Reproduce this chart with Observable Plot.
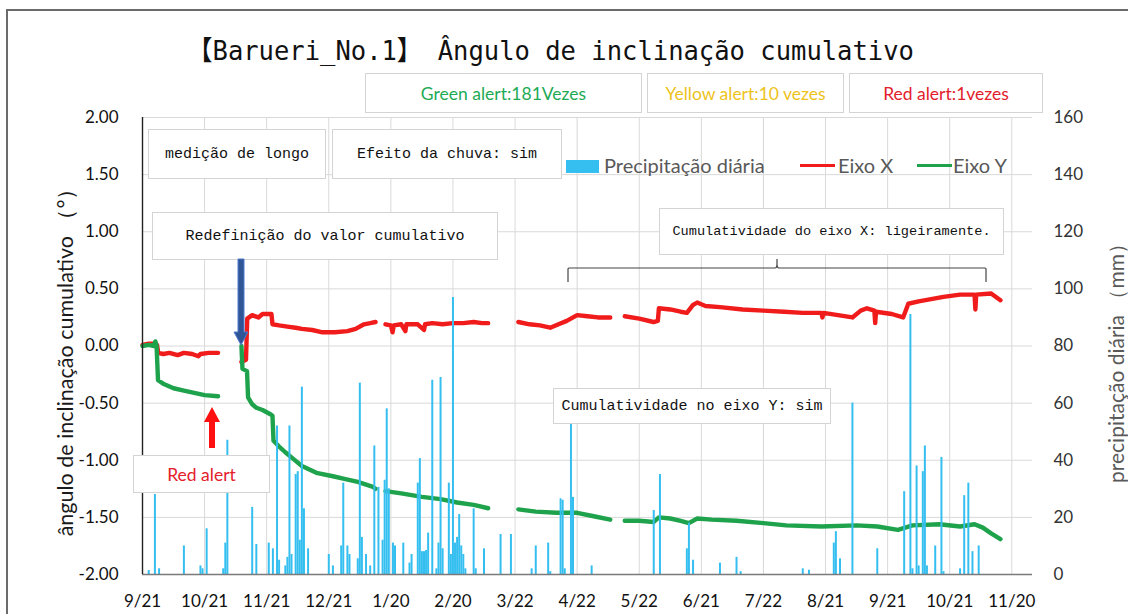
<!DOCTYPE html>
<html><head><meta charset="utf-8">
<script src="https://cdn.jsdelivr.net/npm/d3@7"></script>
<script src="https://cdn.jsdelivr.net/npm/@observablehq/plot@0.6"></script>
<style>
html,body{margin:0;background:#fff;overflow:hidden;}
#wrap{position:relative;width:1128px;height:614px;overflow:hidden;font-family:Lato,"Open Sans",sans-serif;background:#fff;}
#wrap > svg{position:absolute;left:0;top:0;}
.hline{position:absolute;left:6px;top:9px;width:1122px;height:2px;background:#6b6b6b;}
.vline{position:absolute;left:6px;top:9px;width:2px;height:605px;background:#6b6b6b;}
.box{position:absolute;background:#fff;border:1px solid #d4d4d4;box-sizing:border-box;display:flex;align-items:center;justify-content:center;white-space:nowrap;}
.mono{font-family:"Liberation Mono","DejaVu Sans Mono",monospace;color:#111;}
.cal{font-family:Lato,"Open Sans",sans-serif;font-size:17.5px;}
.rot{position:absolute;transform:translate(-50%,-50%) rotate(-90deg);white-space:nowrap;}
#title{position:absolute;left:187px;top:29px;font-family:"DejaVu Sans Mono","Noto Sans CJK JP",monospace;font-size:27px;color:#111;white-space:nowrap;transform:scaleX(0.945);transform-origin:left center;}
.leg{position:absolute;font-size:20px;color:#595959;white-space:nowrap;}
</style></head>
<body>
<div id="wrap">
</div>
<script>
// ---- data ----
const tickDays = [0,30,60,90,120,150,180,210,240,270,300,330,360,390,420];
const tickLabels = ["9/21","10/21","11/21","12/21","1/20","2/20","3/22","4/22","5/22","6/21","7/22","8/21","9/21","10/21","11/20"];
const leftTicks = [-2,-1.5,-1,-0.5,0,0.5,1,1.5,2];
const rightTicks = [0,20,40,60,80,100,120,140,160];

// Eixo X (red) : [day, degrees], null = gap in record
const eixoX = [
[0,0.01],[3,0.02],[6,0.02],[7,0.01],[7.6,-0.06],[10,-0.07],[13,-0.06],[17,-0.08],[20,-0.06],[24,-0.07],[27,-0.09],[28,-0.07],[32,-0.06],[36.5,-0.06],
[42,null],
[47.8,-0.14],[50,-0.12],[50.6,0.24],[53,0.27],[56,0.25],[58,0.28],[62.3,0.28],[62.8,0.19],[66,0.18],[70,0.17],[74,0.16],[77,0.15],[82,0.14],[87,0.12],[93,0.12],[99,0.13],[103,0.15],[107,0.19],[110,0.2],[112.6,0.21],
[115,null],
[117.4,0.19],[120,0.18],[120.8,0.12],[121.4,0.18],[125,0.19],[127,0.13],[127.5,0.19],[133,0.19],[136,0.14],[136.5,0.19],[140,0.2],[145,0.19],[150,0.2],[155,0.2],[160,0.21],[164,0.2],[167,0.2],
[174,null],
[181.6,0.21],[187,0.19],[192,0.18],[197,0.16],[201,0.19],[205,0.22],[210,0.27],[215,0.26],[220,0.25],[226,0.25],
[229,null],
[233,0.26],[240,0.24],[246.9,0.21],[249,0.22],[249.5,0.33],[255,0.32],[260,0.30],[263,0.29],[266,0.36],[268,0.38],[272,0.35],[279,0.34],[290,0.32],[300,0.31],[310,0.30],[319,0.29],[328,0.29],[328.5,0.25],[329,0.29],[336,0.27],[343,0.25],[347,0.31],[350,0.33],[353.6,0.31],[354,0.2],[354.4,0.3],[362,0.28],[367.5,0.25],[370,0.37],[375,0.39],[381,0.41],[387,0.43],[395,0.45],[402,0.45],[402.4,0.32],[402.8,0.45],[410,0.46],[414.5,0.40]
];

// Eixo Y (green)
const eixoY = [
[0,0.0],[3,0.01],[5.5,0.0],[6.2,0.04],[6.8,0.0],[7.5,-0.3],[10,-0.33],[15,-0.37],[20,-0.39],[25,-0.41],[30,-0.43],[36.5,-0.44],
[42,null],
[47.8,0.0],[48.3,-0.2],[50.5,-0.22],[51,-0.45],[53,-0.51],[55,-0.54],[58,-0.56],[62,-0.6],[62.8,-0.61],[63.3,-0.83],[66,-0.88],[69,-0.93],[73,-0.99],[77,-1.05],[84,-1.11],[92,-1.14],[97,-1.16],[104,-1.19],[111,-1.23],[112.6,-1.25],
[115,null],
[117.4,-1.27],[125,-1.29],[135,-1.32],[144,-1.34],[152,-1.37],[160,-1.39],[167,-1.42],
[174,null],
[181.6,-1.43],[190,-1.45],[200,-1.46],[210,-1.46],[218,-1.49],[226,-1.52],
[229,null],
[233,-1.53],[240,-1.53],[247,-1.54],[249.5,-1.50],[255,-1.51],[260,-1.53],[264,-1.55],[268,-1.51],[275,-1.52],[287,-1.53],[300,-1.55],[311,-1.57],[328,-1.58],[345,-1.57],[355,-1.58],[365,-1.61],[372,-1.57],[385,-1.56],[395,-1.58],[402,-1.56],[406,-1.59],[410,-1.64],[414.5,-1.69]
];

// Precipitação diária: [day, mm]
const rain = [
[3,1.4],[6,28],[8,2],[20,10],[28,3],[29,2],[31,16],[39,2],[40,11],[41,47],[53,23.5],[55,10.5],[61,11],[63,9],[65,52],[66,5],[69,3],[70,6],[71,52],[72,7],[74,35],[75,36],[76,12],[77,65.6],[78,23],[80,9],[90,7],[92,3],[96,10],[97,32],[99,10],[100,7],[104,5.5],[105,67],[106,13],[108,7],[110,3],[112,45],[114,30.5],[116,12],[117,33],[118,58],[119,30],[121,11],[122,10],
[126,11],[129,4],[130,7],[133,32],[134,40.6],[135,8],[136,8],[137,8.4],[138,14.5],[140,68],[142,2],[143,11],[144,69],[145,9],[148,32],[149,7],[150,97],[151,11],[152,13],[153,21],[154,10],[155,7],[156,2],[160,23],[161,2],[165,9],[173,14],[178,14],
[188,2],[190,10],[196,11],[197,1],[202,26.5],[203,26],[204,2],[207,54],[208,27],[217,3],[247,22.4],[250,35],[263,9],[264,18],[266,5],[279,4],[287,6],[289,1],
[319,2],[322,1.5],[334,11],[335,15],[337,5.5],[343,60],[355,9],[368,29],[371,91],[372,2],[374,38],[375,3],[377,36],[378,45],[379,3],[383,10],[386,41],[387,1],[395,2],[397,27.6],[399,32],[401,8],[404,10]
];

const RED = "#f01b1b", GREEN = "#1fa24c", BLUE = "#35bff0";
const toLeft = mm => -2 + mm * 4 / 160; // secondary axis 0–160 mm onto −2…2 °

const plot = Plot.plot({
  width: 1128, height: 614,
  marginLeft: 142, marginRight: 96, marginTop: 117, marginBottom: 40,
  style: {fontFamily: "Lato, 'Open Sans', sans-serif", fontSize: "17px", background: "transparent"},
  x: {domain: [0, 430], axis: null},
  y: {domain: [-2, 2], axis: null},
  marks: [
    Plot.gridY(leftTicks, {stroke: "#d9d9d9", strokeOpacity: 1}),
    Plot.gridX(tickDays, {stroke: "#d9d9d9", strokeOpacity: 1}),
    Plot.line(eixoX, {x: d => d[0], y: d => d[1], stroke: RED, strokeWidth: 4.4, curve: "linear"}),
    Plot.line(eixoY, {x: d => d[0], y: d => d[1], stroke: GREEN, strokeWidth: 4.4, curve: "linear"}),
    Plot.ruleX(rain, {x: d => d[0], y1: -2, y2: d => toLeft(d[1]), stroke: BLUE, strokeWidth: 2}),
    Plot.ruleY([-2], {stroke: "#7a7a7a", strokeWidth: 1.6}),
    Plot.ruleX([0], {stroke: "#222", strokeWidth: 1.4}),
    Plot.axisY(leftTicks, {anchor: "left", tickSize: 0, tickPadding: 24, tickFormat: d => d.toFixed(2), fill: "#111", label: null}),
    Plot.axisY(rightTicks.map(toLeft), {anchor: "right", tickSize: 0, tickPadding: 21, tickFormat: d => String(Math.round((d + 2) * 40)), fill: "#333", label: null}),
    Plot.axisX(tickDays, {anchor: "bottom", tickSize: 0, tickPadding: 20, tickFormat: d => tickLabels[tickDays.indexOf(d)], fill: "#111", label: null})
  ]
});

const wrap = document.getElementById("wrap");
wrap.appendChild(plot);

const html = `
<div class="hline"></div><div class="vline"></div>
<div id="title">【Barueri_No.1】 Ângulo de inclinação cumulativo</div>
<div class="box cal" style="left:365px;top:73px;width:277px;height:40px;color:#1daa55;">Green alert:181Vezes</div>
<div class="box cal" style="left:647px;top:73px;width:197px;height:40px;color:#eec21c;">Yellow alert:10 vezes</div>
<div class="box cal" style="left:849px;top:73px;width:194px;height:40px;color:#e3202b;">Red alert:1vezes</div>
<div class="box mono" style="left:148px;top:129px;width:178px;height:50px;font-size:15px;">medição de longo</div>
<div class="box mono" style="left:332px;top:129px;width:230px;height:50px;font-size:15px;">Efeito da chuva: sim</div>
<div class="box mono" style="left:152px;top:212px;width:346px;height:48px;font-size:15px;">Redefinição do valor cumulativo</div>
<div class="box mono" style="left:659px;top:208px;width:345px;height:47px;font-size:13.6px;">Cumulatividade do eixo X: ligeiramente.</div>
<div class="box mono" style="left:553px;top:388px;width:278px;height:36px;font-size:15px;">Cumulatividade no eixo Y: sim</div>
<div class="box cal" style="left:133px;top:455px;width:137px;height:38px;color:#e3202b;">Red alert</div>
<div style="position:absolute;left:566px;top:160px;width:33px;height:13px;background:${BLUE};"></div>
<div class="leg" style="left:604px;top:153px;">Precipitação diária</div>
<div style="position:absolute;left:800px;top:164px;width:35px;height:3px;background:${RED};"></div>
<div class="leg" style="left:838px;top:153px;">Eixo X</div>
<div style="position:absolute;left:917px;top:164px;width:35px;height:3px;background:${GREEN};"></div>
<div class="leg" style="left:953px;top:153px;">Eixo Y</div>
<div class="rot" style="left:65px;top:357px;font-size:21.5px;color:#1a1a1a;">ângulo de inclinação cumulativo （°）</div>
<div class="rot" style="left:1117px;top:358px;font-size:21px;color:#595959;">precipitação diária （mm）</div>
<svg width="1128" height="614" style="position:absolute;left:0;top:0;pointer-events:none">
  <path d="M568,282 L568,269 Q568,268 569,268 L775,268 Q777,268 777,264 L777,259 M777,264 Q777,268 779,268 L985,268 Q986,268 986,269 L986,282" fill="none" stroke="#444" stroke-width="1.2"/>
  <path d="M238,259 L244,259 L244,332 L248,332 L241,345 L234,332 L238,332 Z" fill="#2f5597" stroke="#4f7ad0" stroke-width="1"/>
  <path d="M209,448 L215,448 L215,422 L220,422 L212,407 L204,422 L209,422 Z" fill="#ff1010"/>
</svg>`;
wrap.insertAdjacentHTML("beforeend", html);
</script>
</body></html>
